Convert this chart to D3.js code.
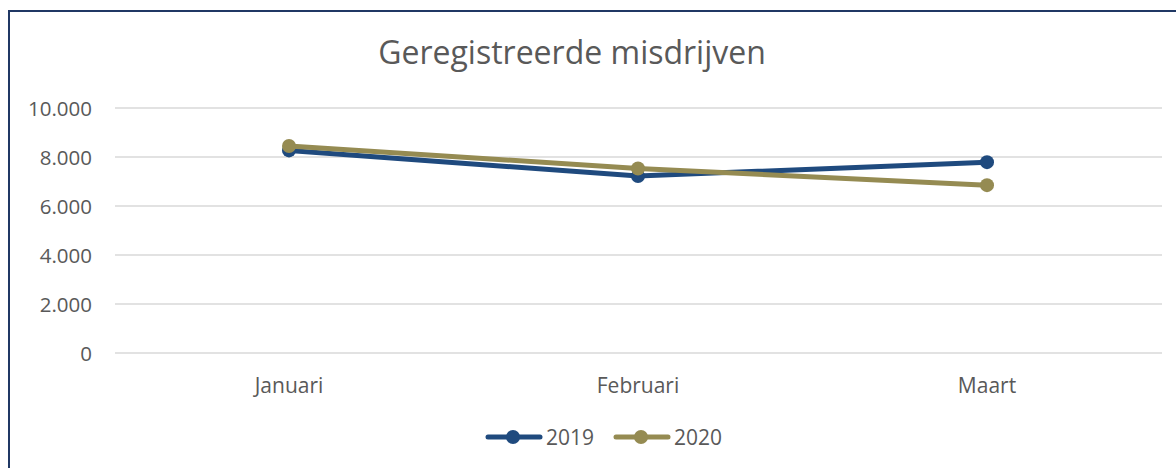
<!DOCTYPE html>
<html>
<head>
<meta charset="utf-8">
<title>Geregistreerde misdrijven</title>
<style>
  body { margin: 0; background: #fff; }
  text { font-family: "Open Sans", sans-serif; fill: #595959; }
</style>
</head>
<body>
<script src="https://d3js.org/d3.v7.min.js"></script>
<script>
// data
var months = ["Januari", "Februari", "Maart"];
var seriesNames = ["2019", "2020"];
var values2019 = [8270, 7220, 7790];
var values2020 = [8450, 7530, 6850];
var yTicks = [0, 2000, 4000, 6000, 8000, 10000];
var colors = ["#1f4a7e", "#958b52"];

var width = 1176, height = 468;
var svg = d3.select("body").append("svg")
    .attr("width", width).attr("height", height);

// chart frame (only left and top edges visible)
svg.append("rect")
    .attr("x", 9).attr("y", 11)
    .attr("width", 1200).attr("height", 500)
    .attr("fill", "none")
    .attr("stroke", "#203864")
    .attr("stroke-width", 2);

var x = d3.scalePoint().domain(months).range([289, 987]);
var y = d3.scaleLinear().domain([0, 10000]).range([353, 108]);

// gridlines
svg.selectAll(".grid")
    .data(yTicks)
    .enter().append("line")
    .attr("x1", 115).attr("x2", 1162)
    .attr("y1", function (d) { return y(d); })
    .attr("y2", function (d) { return y(d); })
    .attr("stroke", "#d9d9d9")
    .attr("stroke-width", 1.5);

// y labels
var fmt = function (d) { return d3.format(",")(d).replace(/,/g, "."); };
svg.selectAll(".ylab")
    .data(yTicks)
    .enter().append("text")
    .attr("x", 92)
    .attr("y", function (d) { return y(d) + 7.5; })
    .attr("text-anchor", "end")
    .attr("font-size", "20.5px")
    .text(fmt);

// x labels
svg.selectAll(".xlab")
    .data(months)
    .enter().append("text")
    .attr("x", function (d) { return x(d); })
    .attr("y", 393)
    .attr("text-anchor", "middle")
    .attr("font-size", "21px")
    .text(function (d) { return d; });

// title
svg.append("text")
    .attr("x", 572).attr("y", 64)
    .attr("text-anchor", "middle")
    .attr("font-size", "32px")
    .text("Geregistreerde misdrijven");

var series = [values2019, values2020];
var line = d3.line()
    .x(function (d, i) { return x(months[i]); })
    .y(function (d) { return y(d); });

series.forEach(function (vals, s) {
    svg.append("path")
        .datum(vals)
        .attr("d", line)
        .attr("fill", "none")
        .attr("stroke", colors[s])
        .attr("stroke-width", 5)
        .attr("stroke-linecap", "round");
    svg.selectAll(".pt" + s)
        .data(vals)
        .enter().append("circle")
        .attr("cx", function (d, i) { return x(months[i]); })
        .attr("cy", function (d) { return y(d); })
        .attr("r", 7)
        .attr("fill", colors[s]);
});

// legend
var legX = [486, 614];
seriesNames.forEach(function (name, s) {
    var g = svg.append("g").attr("transform", "translate(" + legX[s] + ",437)");
    g.append("line")
        .attr("x1", 2).attr("x2", 54)
        .attr("y1", 0).attr("y2", 0)
        .attr("stroke", colors[s])
        .attr("stroke-width", 5)
        .attr("stroke-linecap", "round");
    g.append("circle")
        .attr("cx", 27).attr("cy", 0).attr("r", 7)
        .attr("fill", colors[s]);
    g.append("text")
        .attr("x", 60).attr("y", 8)
        .attr("font-size", "21px")
        .text(name);
});
</script>
</body>
</html>
